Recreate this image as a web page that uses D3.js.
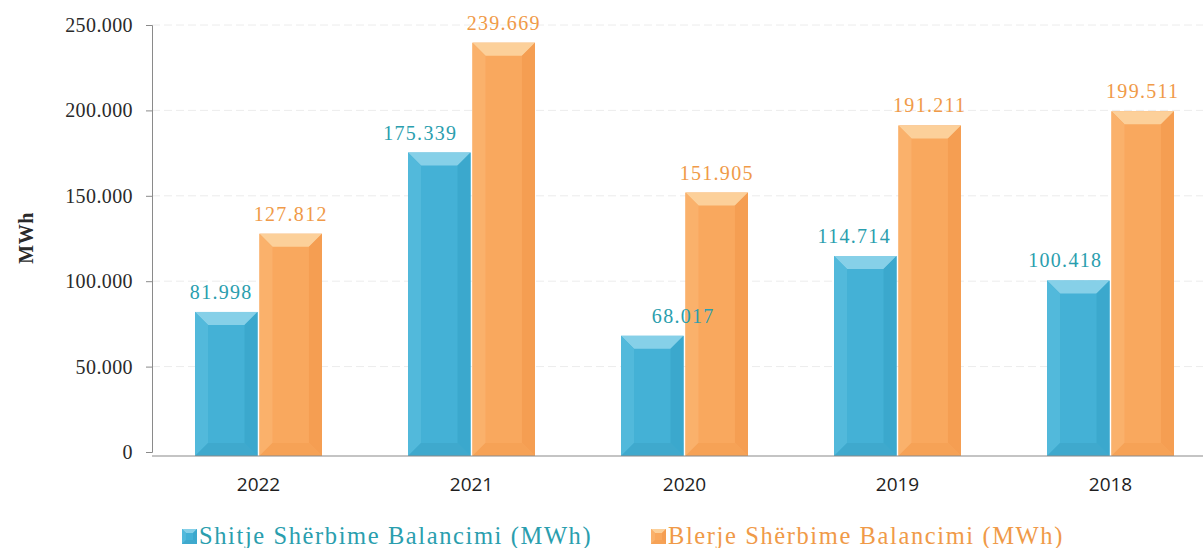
<!DOCTYPE html>
<html><head><meta charset="utf-8">
<script src="https://cdn.jsdelivr.net/npm/d3@7"></script>
<style>html,body{margin:0;padding:0;background:#fff;}svg{display:block;}</style>
</head><body>
<svg id="c" width="1203" height="548"></svg>
<script>
const years = ["2022","2021","2020","2019","2018"];
const seriesNames = ["Shitje Shërbime Balancimi (MWh)","Blerje Shërbime Balancimi (MWh)"];
const shitje = [81998, 175339, 68017, 114714, 100418];
const blerje = [127812, 239669, 151905, 191211, 199511];
const yTicks = [0, 50000, 100000, 150000, 200000, 250000];
// manual horizontal nudges of the value labels, as placed in the original
const labelNudge = [[-5, -19, 31, -11, -13], [0, 0, 0, 0, 0]];

const SERIF = "'Liberation Serif', 'Times New Roman', serif";
const SANS = "'Open Sans', 'Liberation Sans', sans-serif";

const palette = [
  {base:"#44b1d6", top:"#86d0e8", left:"#52b9db", right:"#3ba8cd", bottom:"#3fa9cd", label:"#2a9eae"},
  {base:"#f9a85e", top:"#fcd09a", left:"#fab16b", right:"#f59e52", bottom:"#f6a256", label:"#f09a48"}
];

const svg = d3.select("#c");
const loc = d3.formatLocale({decimal:",", thousands:".", grouping:[3], currency:["",""]});
const fmt = loc.format(",d");

const x0 = d3.scaleBand().domain(years).range([152, 1217]).paddingInner(0.404).paddingOuter(0.202);
const x1 = d3.scaleBand().domain([0,1]).range([0, x0.bandwidth()]).paddingInner(0.03);
const y = d3.scaleLinear().domain([0, 250000]).range([452, 25]);

// gridlines
svg.append("g").selectAll("line").data(yTicks.filter(d=>d>0)).join("line")
  .attr("x1", 152).attr("x2", 1203).attr("y1", d=>y(d)).attr("y2", d=>y(d))
  .attr("stroke", "#ececec").attr("stroke-width", 1).attr("stroke-dasharray", "8,4");

// y axis
const yAxis = d3.axisLeft(y).tickValues(yTicks).tickFormat(fmt).tickSize(6).tickPadding(13);
const ga = svg.append("g").attr("transform", "translate(152,0)").call(yAxis);
ga.select(".domain").attr("stroke", "#8a8a8a");
ga.selectAll(".tick line").attr("stroke", "#8a8a8a");
ga.selectAll(".tick text").style("font-family", SERIF).style("font-size", "20px")
  .style("letter-spacing", "0.4px").attr("fill", "#2a2a2a");

// y title
svg.append("text").attr("transform", "translate(33,238) rotate(-90)")
  .attr("text-anchor", "middle").style("font-family", SERIF).style("font-size", "20px")
  .style("font-weight", "bold").style("letter-spacing", "0.5px")
  .attr("fill", "#2a2a2a").text("MWh");

// bars
const data = years.map((yr, i) => ({yr, i, vals:[shitje[i], blerje[i]]}));
function bevelBar(g, x, yTop, w, h, c, bev) {
  const b = Math.min(bev, w/2, h/2);
  const x2 = x + w, yB = yTop + h;
  g.append("rect").attr("x", x).attr("y", yTop).attr("width", w).attr("height", h).attr("fill", c.base);
  g.append("polygon").attr("points", [[x,yTop],[x2,yTop],[x2-b,yTop+b],[x+b,yTop+b]].join(" ")).attr("fill", c.top);
  g.append("polygon").attr("points", [[x,yTop],[x+b,yTop+b],[x+b,yB-b],[x,yB]].join(" ")).attr("fill", c.left);
  g.append("polygon").attr("points", [[x2,yTop],[x2-b,yTop+b],[x2-b,yB-b],[x2,yB]].join(" ")).attr("fill", c.right);
  g.append("polygon").attr("points", [[x,yB],[x+b,yB-b],[x2-b,yB-b],[x2,yB]].join(" ")).attr("fill", c.bottom);
}
const gb = svg.append("g");
const gl = svg.append("g");
data.forEach(d => {
  d.vals.forEach((v, s) => {
    const bx = x0(d.yr) + x1(s);
    const bw = x1.bandwidth();
    const g = gb.append("g");
    bevelBar(g, bx, y(v), bw, y(0) - y(v) + 4, palette[s], 13);
    gl.append("text").attr("x", bx + bw/2 + labelNudge[s][d.i]).attr("y", y(v) - 13)
      .attr("text-anchor", "middle").style("font-family", SERIF).style("font-size", "20px")
      .style("letter-spacing", "1.3px").attr("fill", palette[s].label).text(fmt(v));
  });
});

// x axis line
svg.append("line").attr("x1", 152).attr("x2", 1203).attr("y1", y(0)+4).attr("y2", y(0)+4)
  .attr("stroke", "#8a8a8a").attr("stroke-width", 1.2);

// x labels
const xAxis = d3.axisBottom(x0).tickSize(0).tickPadding(0);
const gx = svg.append("g").attr("transform", "translate(0,477)").call(xAxis);
gx.select(".domain").remove();
gx.selectAll(".tick text").style("font-family", SANS).style("font-size", "19px")
  .attr("fill", "#1e1e1e").attr("dy", "0.71em");

// legend
const legX = [182, 651];
seriesNames.forEach((nm, s) => {
  const g = svg.append("g").attr("transform", `translate(${legX[s]},529)`);
  bevelBar(g, 0, 0, 15, 15, palette[s], 4);
  g.append("text").attr("x", 17).attr("y", 15)
    .style("font-family", SERIF).style("font-size", "24.5px").style("letter-spacing", "1.6px")
    .attr("fill", palette[s].label).text(nm);
});
</script>
</body></html>
